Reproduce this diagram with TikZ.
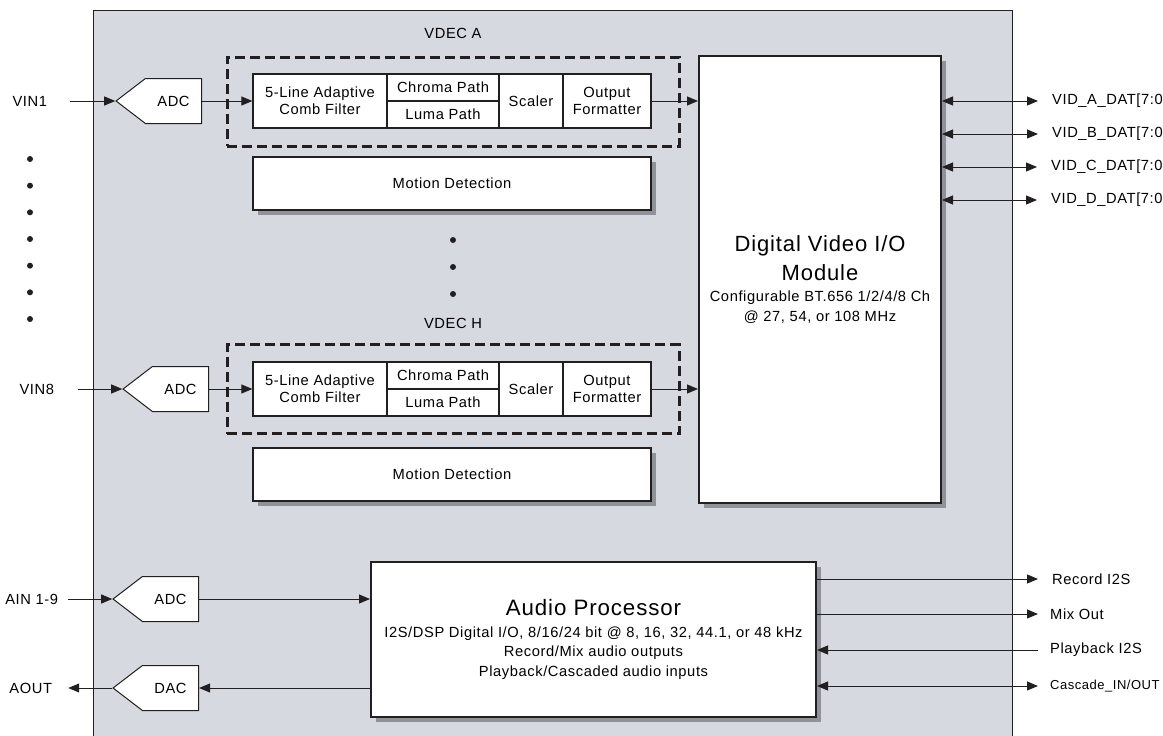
\documentclass[tikz,border=0pt]{standalone}
\usepackage{fontspec}
\setmainfont{Liberation Sans}[LetterSpace=4]
\usetikzlibrary{arrows.meta,shapes.symbols,shadows,positioning}

\definecolor{chipgray}{HTML}{D6D9E0}
\definecolor{shadegray}{HTML}{8F9399}
\definecolor{ink}{HTML}{231F20}

\tikzset{
  blk/.style={draw=ink, line width=1.2pt, fill=white, inner sep=0pt, align=center,
    font=\fontsize{14.7}{17}\selectfont},
  bigblk/.style={draw=ink, line width=2pt, fill=white, inner sep=0pt, align=center,
    font=\fontsize{14.7}{19.5}\selectfont,
    drop shadow={shadow xshift=5pt, shadow yshift=-5pt, fill=shadegray, opacity=1}},
  vdec/.style={draw=ink, line width=3pt, dash pattern=on 10pt off 5pt,
    minimum width=452pt, minimum height=89pt},
  conv/.style={signal, signal to=west, signal pointer angle=75, draw=ink, line width=1pt,
    fill=white, inner xsep=12pt, minimum height=45pt, font=\fontsize{14.7}{16}\selectfont},
  pin/.style={inner sep=0pt, font=\fontsize{14.7}{16}\selectfont},
  sig/.style={draw=ink, line width=0.9pt, -{Triangle[length=11pt,width=9pt]}},
  bisig/.style={draw=ink, line width=0.9pt,
    {Triangle[length=11pt,width=9pt]}-{Triangle[length=11pt,width=9pt]}},
}

\begin{document}
\begin{tikzpicture}[x=1pt,y=-1pt]
\useasboundingbox (0,0) rectangle (1163,736);
% chip
\fill[chipgray] (93,10) rectangle (1012,740);
\draw[ink, line width=1pt] (93,740) -- (93,10) -- (1012,10) -- (1012,740);

% VDEC A
\node[vdec] (vdecA) at (453,101.5) {};
\node[pin] (vdecAlbl) at (453,33) {VDEC A};
\node[blk, minimum width=134pt, minimum height=54pt] (combA) at (320,101) {5-Line Adaptive\\Comb Filter};
\node[blk, minimum width=112pt, minimum height=27pt] (chromaA) at (443,87.5) {Chroma Path};
\node[blk, minimum width=112pt, minimum height=27pt] (lumaA) at (443,114.5) {Luma Path};
\node[blk, minimum width=64pt, minimum height=54pt] (scalerA) at (531,101) {Scaler};
\node[blk, minimum width=88pt, minimum height=54pt] (fmtA) at (607,101) {Output\\Formatter};
\node[bigblk, minimum width=398pt, minimum height=53pt] (motionA) at (452,183.5) {Motion Detection};

% VDEC H
\node[vdec] (vdecH) at (453,389) {};
\node[pin] (vdecHlbl) at (453,323) {VDEC H};
\node[blk, minimum width=134pt, minimum height=54pt] (combH) at (320,389) {5-Line Adaptive\\Comb Filter};
\node[blk, minimum width=112pt, minimum height=27pt] (chromaH) at (443,375.5) {Chroma Path};
\node[blk, minimum width=112pt, minimum height=27pt] (lumaH) at (443,402.5) {Luma Path};
\node[blk, minimum width=64pt, minimum height=54pt] (scalerH) at (531,389) {Scaler};
\node[blk, minimum width=88pt, minimum height=54pt] (fmtH) at (607,389) {Output\\Formatter};
\node[bigblk, minimum width=398pt, minimum height=53pt] (motionH) at (452,474.5) {Motion Detection};

% output module
\node[bigblk, minimum width=242pt, minimum height=447pt] (dvio) at (820,279.5)
  {{\fontsize{22}{26}\selectfont Digital Video I/O}\\[7pt]
   {\fontsize{22}{26}\selectfont Module}\\[2pt]
   Configurable BT.656 1/2/4/8 Ch\\
   @ 27, 54, or 108 MHz};

% audio
\node[bigblk, minimum width=445pt, minimum height=155pt] (audio) at (593.5,639.5)
  {{\fontsize{22.3}{26}\selectfont Audio Processor}\\[2pt]
   I2S/DSP Digital I/O, 8/16/24 bit @ 8, 16, 32, 44.1, or 48 kHz\\
   Record/Mix audio outputs\\
   Playback/Cascaded audio inputs};

% converters
\node[conv] (adcA) at (173.5,101) {ADC};
\node[conv] (adcH) at (180.5,389) {ADC};
\node[conv] (adcAud) at (170.5,599) {ADC};
\node[conv] (dac) at (170.5,688) {DAC};

% inputs
\node[pin, left=68pt of adcA.west] (vin1) {VIN1};
\node[pin, left=68pt of adcH.west] (vin8) {VIN8};
\node[pin, left=54pt of adcAud.west] (ain) {AIN 1-9};
\node[pin, left=60pt of dac.west] (aout) {AOUT};
\draw[sig, shorten <=23pt] (vin1.east) -- (adcA.west);
\draw[sig, shorten <=24pt] (vin8.east) -- (adcH.west);
\draw[sig, shorten <=10pt] (ain.east) -- (adcAud.west);
\draw[sig, shorten >=16pt] (dac.west) -- (aout.east);

\foreach \k in {0,...,6} \fill[ink] (30,159+26.67*\k) circle (3pt);
\foreach \yy in {240,267,294} \fill[ink] (453,\yy) circle (3pt);

% video path
\draw[sig] (adcA.east) -- (combA.west);
\draw[sig] (fmtA.east) -- (fmtA.east -| dvio.west);
\draw[sig] (adcH.east) -- (adcH.east -| combH.west);
\draw[sig] (fmtH.east) -- (fmtH.east -| dvio.west);

% video outputs
\node[pin, anchor=west] (vidA) at (1052,101) {VID\_A\_DAT[7:0};
\node[pin, anchor=west] (vidB) at (1052,134) {VID\_B\_DAT[7:0};
\node[pin, anchor=west] (vidC) at (1051,167) {VID\_C\_DAT[7:0};
\node[pin, anchor=west] (vidD) at (1051,200) {VID\_D\_DAT[7:0};
\foreach \p in {vidA,vidB,vidC,vidD}
  \draw[bisig, shorten >=14pt] (dvio.east |- \p.west) -- (\p.west);

% audio path
\draw[sig] (adcAud.east) -- (adcAud.east -| audio.west);
\draw[sig] (audio.west |- dac.east) -- (dac.east);
\node[pin, anchor=west] (recI2S) at (1052,579) {Record I2S};
\node[pin, anchor=west] (mixout) at (1050,614) {Mix Out};
\node[pin, anchor=west] (playI2S) at (1050,650) {Playback I2S};
\node[pin, anchor=west, font=\fontsize{13}{15}\selectfont] (cascade) at (1050,686) {Cascade\_IN/OUT};
\draw[sig, shorten >=14pt] (audio.east |- recI2S.west) -- (recI2S.west);
\draw[sig, shorten >=12pt] (audio.east |- mixout.west) -- (mixout.west);
\draw[sig, shorten <=12pt] (playI2S.west) -- (audio.east |- playI2S.west);
\draw[bisig, shorten >=12pt] (audio.east |- cascade.west) -- (cascade.west);
\end{tikzpicture}
\end{document}
